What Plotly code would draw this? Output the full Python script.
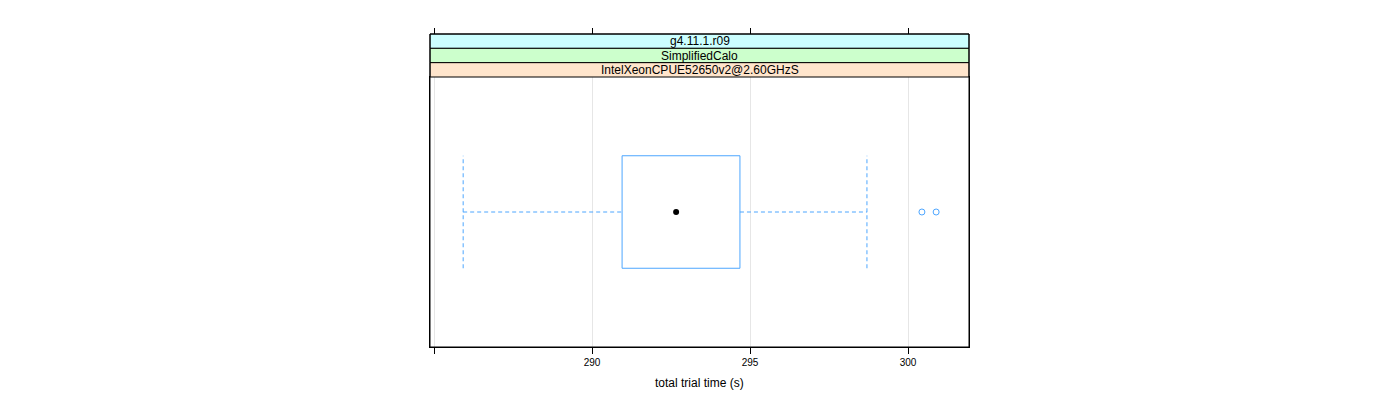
import plotly.graph_objects as go

# Data
strip_labels = ["g4.11.1.r09", "SimplifiedCalo", "IntelXeonCPUE52650v2@2.60GHzS"]
strip_colors = ["#ccffff", "#ccffcc", "#ffe5cc"]
lower_whisker = 285.92
q1 = 290.95
median = 292.66
q3 = 294.68
upper_whisker = 298.70
outliers = [300.44, 300.89]
tick_vals = [285, 290, 295, 300]
tick_text = ["", "290", "295", "300"]
x_range = [284.87, 301.93]

W, H = 1400, 400
px0, px1 = 430, 969
py_top, py_plot_top, py_bot = 34, 77, 347

def fx(p):
    return p / W

def fy(p):
    return 1 - p / H

blue = "#4da6ff"
font_family = "Liberation Sans, Arial"
fig = go.Figure()

# box rectangle
fig.add_trace(go.Scatter(
    x=[q1, q3, q3, q1, q1], y=[0.75, 0.75, 1.25, 1.25, 0.75],
    mode="lines", line=dict(color=blue, width=1), hoverinfo="skip", showlegend=False))
# whiskers
fig.add_trace(go.Scatter(
    x=[lower_whisker, q1, None, q3, upper_whisker], y=[1, 1, None, 1, 1],
    mode="lines", line=dict(color=blue, width=1, dash="4px,3px"), hoverinfo="skip", showlegend=False))
# whisker end lines
fig.add_trace(go.Scatter(
    x=[lower_whisker, lower_whisker, None, upper_whisker, upper_whisker],
    y=[0.75, 1.25, None, 0.75, 1.25],
    mode="lines", line=dict(color=blue, width=1, dash="4px,3px"), hoverinfo="skip", showlegend=False))
# median dot
fig.add_trace(go.Scatter(
    x=[median], y=[1], mode="markers",
    marker=dict(color="black", size=6, symbol="circle"), showlegend=False))
# outliers
fig.add_trace(go.Scatter(
    x=outliers, y=[1] * len(outliers), mode="markers",
    marker=dict(color=blue, size=6, symbol="circle-open", line=dict(color=blue, width=1)),
    showlegend=False))

shapes = []
strip_h = (py_plot_top - py_top) / len(strip_labels)
annotations = []
for i, (lab, col) in enumerate(zip(strip_labels, strip_colors)):
    y0 = py_top + i * strip_h
    y1 = y0 + strip_h
    shapes.append(dict(type="rect", xref="paper", yref="paper",
                       x0=fx(px0), x1=fx(px1), y0=fy(y1), y1=fy(y0),
                       fillcolor=col, line=dict(color="black", width=1), layer="above"))
    annotations.append(dict(xref="paper", yref="paper", x=(fx(px0) + fx(px1)) / 2,
                            y=(fy(y0) + fy(y1)) / 2, text=lab, showarrow=False,
                            font=dict(family=font_family, size=12, color="black"),
                            xanchor="center", yanchor="middle"))
# outer panel border
shapes.append(dict(type="rect", xref="paper", yref="paper",
                   x0=fx(px0), x1=fx(px1), y0=fy(py_bot), y1=fy(py_top),
                   line=dict(color="black", width=1), fillcolor="rgba(0,0,0,0)", layer="above"))

annotations.append(dict(xref="paper", yref="paper", x=(fx(px0) + fx(px1)) / 2, y=fy(383),
                        text="total trial time (s)", showarrow=False,
                        font=dict(family=font_family, size=12, color="black"),
                        xanchor="center", yanchor="middle"))

fig.update_layout(
    width=W, height=H,
    margin=dict(l=0, r=0, t=0, b=0),
    paper_bgcolor="white", plot_bgcolor="white",
    showlegend=False,
    shapes=shapes, annotations=annotations,
    xaxis=dict(domain=[fx(px0), fx(px1)], range=x_range, tickmode="array",
               tickvals=tick_vals, ticktext=tick_text, ticks="outside", ticklen=6,
               tickcolor="black", showgrid=True, gridcolor="#e6e6e6", gridwidth=1,
               zeroline=False, showline=True, linecolor="black", linewidth=1, mirror=True,
               tickfont=dict(family=font_family, size=10, color="black")),
    xaxis2=dict(overlaying="x", matches="x", anchor="free", position=fy(py_top), side="top",
                range=x_range, tickmode="array", tickvals=tick_vals, ticks="outside", ticklen=6,
                tickcolor="black", showticklabels=False, showgrid=False, zeroline=False,
                showline=False),
    yaxis=dict(domain=[fy(py_bot), fy(py_plot_top)], range=[0.4, 1.6], showticklabels=False,
               ticks="", showgrid=False, zeroline=False, showline=True, linecolor="black",
               linewidth=1, mirror=True),
)

# invisible trace so the top tick axis renders
fig.add_trace(go.Scatter(x=[median], y=[1], xaxis="x2", mode="markers",
                         marker=dict(opacity=0), hoverinfo="skip", showlegend=False))

fig.write_html("out.html")
